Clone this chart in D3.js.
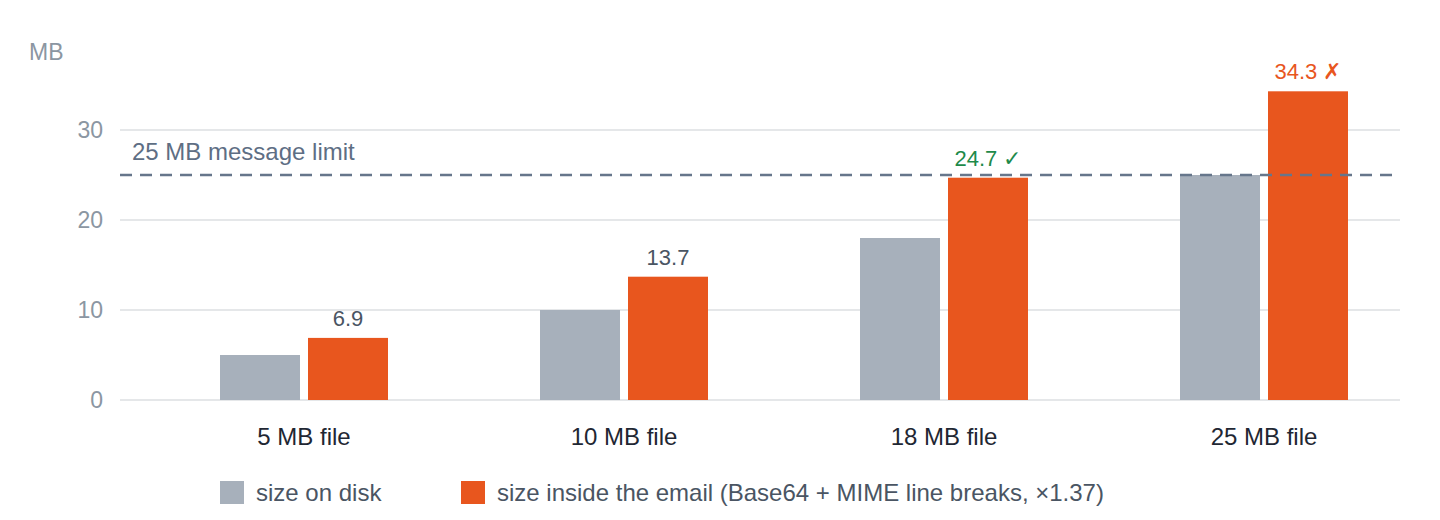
<!DOCTYPE html>
<html><head><meta charset="utf-8">
<script src="https://cdn.jsdelivr.net/npm/d3@7/dist/d3.min.js"></script>
<style>
html,body{margin:0;padding:0;background:#fff;}
svg{display:block;font-family:"Liberation Sans",Arial,Helvetica,sans-serif;}
</style></head>
<body>
<svg id="chart" width="1440" height="520"></svg>
<script>
const categories = ["5 MB file", "10 MB file", "18 MB file", "25 MB file"];
const seriesNames = ["size on disk", "size inside the email (Base64 + MIME line breaks, \u00d71.37)"];
const diskValues = [5, 10, 18, 25];
const emailValues = [6.9, 13.7, 24.7, 34.3];
const emailLabels = ["6.9", "13.7", "24.7 \u2713", "34.3 \u2717"];
const yTicks = [0, 10, 20, 30];
const limitValue = 25;
const limitLabel = "25 MB message limit";
const unitLabel = "MB";

const colors = ["#a7b0bb", "#e8561e"];
const labelColors = ["#4a5563", "#4a5563", "#1e8a4a", "#e8561e"];

const svg = d3.select("#chart");
const plotLeft = 120, plotRight = 1400;

const y = d3.scaleLinear().domain([0, 30]).range([400, 130]);
const x0 = d3.scaleBand().domain(categories).range([144, 1424]).padding(0);
const x1 = d3.scaleBand().domain(seriesNames).range([-84, 84]).paddingInner(8/88).paddingOuter(0);

// gridlines
svg.append("g").selectAll("line").data(yTicks).join("line")
  .attr("x1", plotLeft).attr("x2", plotRight)
  .attr("y1", d => y(d)).attr("y2", d => y(d))
  .attr("stroke", "#dcdfe2").attr("stroke-width", 1.5);

// y tick labels
svg.append("g").selectAll("text").data(yTicks).join("text")
  .attr("x", 103).attr("y", d => y(d)).attr("dy", "0.35em")
  .attr("text-anchor", "end").attr("font-size", 23).attr("fill", "#8b96a2")
  .text(d => d);

svg.append("text").attr("x", 29).attr("y", 60).attr("font-size", 23)
  .attr("fill", "#8b96a2").text(unitLabel);

// bars
const rows = categories.map((c, i) => ({cat: c, vals: [diskValues[i], emailValues[i]], i}));
const groups = svg.append("g").selectAll("g").data(rows).join("g")
  .attr("transform", d => `translate(${x0(d.cat) + x0.bandwidth()/2},0)`);
groups.selectAll("rect").data(d => d.vals.map((v, k) => ({v, k}))).join("rect")
  .attr("x", d => x1(seriesNames[d.k]))
  .attr("width", x1.bandwidth())
  .attr("y", d => y(d.v))
  .attr("height", d => y(0) - y(d.v))
  .attr("fill", d => colors[d.k]);

// value labels on email bars
groups.append("text")
  .attr("x", d => x1(seriesNames[1]) + x1.bandwidth()/2)
  .attr("y", d => y(d.vals[1]) - 12)
  .attr("text-anchor", "middle").attr("font-size", 22)
  .attr("fill", d => labelColors[d.i])
  .text(d => emailLabels[d.i]);

// category labels
svg.append("g").selectAll("text").data(categories).join("text")
  .attr("x", d => x0(d) + x0.bandwidth()/2).attr("y", 445)
  .attr("text-anchor", "middle").attr("font-size", 24).attr("fill", "#1f2733")
  .text(d => d);

// limit line
svg.append("line").attr("x1", plotLeft).attr("x2", plotRight)
  .attr("y1", y(limitValue)).attr("y2", y(limitValue))
  .attr("stroke", "#66768b").attr("stroke-width", 2.5).attr("stroke-dasharray", "12 8");
svg.append("text").attr("x", 132).attr("y", y(limitValue) - 15)
  .attr("font-size", 24).attr("fill", "#5e6e84").text(limitLabel);

// legend
const legendX = [220, 461];
const lg = svg.append("g").selectAll("g").data(seriesNames).join("g")
  .attr("transform", (d, i) => `translate(${legendX[i]},481)`);
lg.append("rect").attr("width", 24).attr("height", 23).attr("fill", (d, i) => colors[i]);
lg.append("text").attr("x", 36).attr("y", 12).attr("dy", "0.35em")
  .attr("font-size", 24).attr("fill", "#4a5563").text(d => d);
</script>
</body></html>
